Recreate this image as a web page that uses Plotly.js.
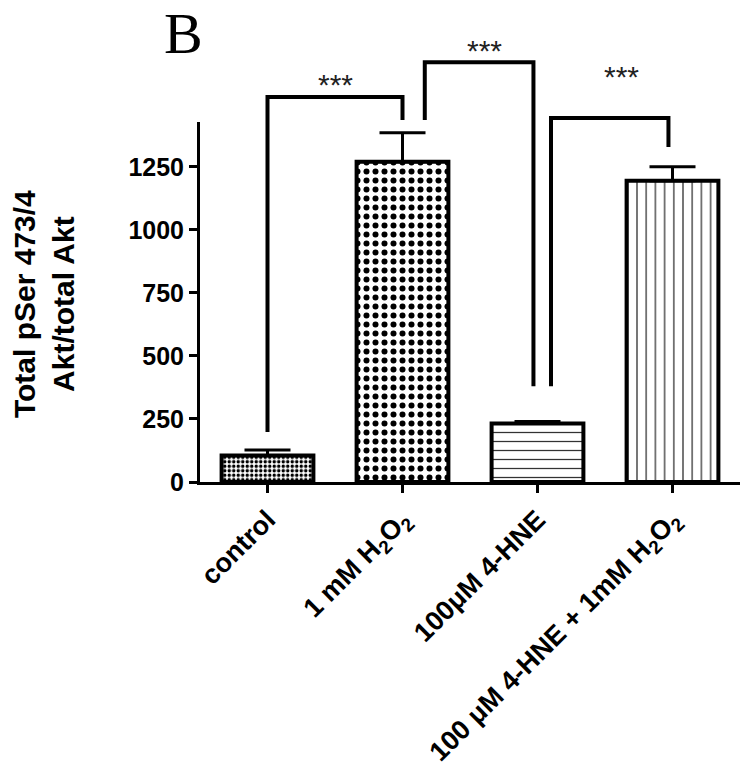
<!DOCTYPE html>
<html>
<head>
<meta charset="utf-8">
<script src="https://cdn.plot.ly/plotly-3.0.1.min.js"></script>
<style>html,body{margin:0;padding:0;background:#fff;}</style>
</head>
<body>
<div id="chart" style="width:750px;height:771px;"></div>
<script>
// ---- data ----
const categories = ["control", "1 mM H<sub>2</sub>O<sub>2</sub>", "100μM 4-HNE", "100 μM 4-HNE + 1mM H<sub>2</sub>O<sub>2</sub>"];
const means = [105, 1270, 232, 1195];
const sem = [22, 115, 8, 55];
const yTicks = [0, 250, 500, 750, 1000, 1250];
const yMax = 1428;

// significance brackets (x in category index units, y in data units)
const bracket1X = [0, 0, 1, 1];
const bracket1Y = [198, 1527, 1527, 1436];
const bracket2X = [1.165, 1.165, 1.97, 1.97];
const bracket2Y = [1436, 1665, 1665, 380];
const bracket3X = [2.1, 2.1, 2.97, 2.97];
const bracket3Y = [380, 1444, 1444, 1329];
const starX = [0.5, 1.61, 2.62];
const starY = [1575, 1712, 1608];
const starText = ["***", "***", "***"];

const xIdx = categories.map((c, i) => i);

const patterns = [
  {shape: ".", size: 4.5, solidity: 0.45, fgcolor: "black", bgcolor: "white"},
  {shape: ".", size: 9, solidity: 0.35, fgcolor: "black", bgcolor: "white"},
  {shape: "-", size: 9, solidity: 0.14, fgcolor: "#333", bgcolor: "white"},
  {shape: "|", size: 9.2, solidity: 0.14, fgcolor: "#333", bgcolor: "white"}
];

const traces = [];
xIdx.forEach((x, i) => {
  traces.push({
    type: "bar",
    x: [x],
    y: [means[i]],
    width: 0.68,
    marker: {color: "white", line: {color: "black", width: 4}, pattern: patterns[i]},
    error_y: {type: "data", symmetric: false, array: [sem[i]], arrayminus: [0], color: "black", thickness: 3, width: 23},
    showlegend: false,
    hoverinfo: "skip"
  });
});

// brackets as shapes: x on the data axis, y converted from data units to paper fraction
const shapes = [];
[[bracket1X, bracket1Y], [bracket2X, bracket2Y], [bracket3X, bracket3Y]].forEach(([bx, by]) => {
  let path = "";
  bx.forEach((x, k) => {
    path += (k === 0 ? "M" : "L") + x + "," + (by[k] / yMax);
  });
  shapes.push({
    type: "path", xref: "x", yref: "paper", path: path,
    line: {color: "black", width: 4}
  });
});

const annotations = starX.map((x, i) => ({
  x: x, y: starY[i] / yMax, xref: "x", yref: "paper", text: starText[i], showarrow: false,
  xanchor: "center", yanchor: "middle",
  font: {family: "Liberation Sans, Arial, sans-serif", size: 30, color: "#222"}
}));
annotations.push({
  x: -0.031, y: 1.247, xref: "paper", yref: "paper", text: "B", showarrow: false,
  xanchor: "center", yanchor: "middle",
  font: {family: "Liberation Serif, Times New Roman, serif", size: 58, color: "black"}
});
annotations.push({
  x: -0.289, y: 0.494, xref: "paper", yref: "paper",
  text: "Total pSer 473/4<br>Akt/total Akt", showarrow: false, textangle: -90,
  xanchor: "center", yanchor: "middle",
  font: {family: "Liberation Sans, Arial, sans-serif", size: 30, color: "black", weight: "bold"}
});

const layout = {
  width: 750, height: 771,
  margin: {l: 200, r: 10, t: 122, b: 289},
  paper_bgcolor: "white", plot_bgcolor: "white",
  xaxis: {
    range: [-0.5, 3.5], tickvals: xIdx, ticktext: categories, tickangle: -45,
    showgrid: false, zeroline: false, showline: true, linecolor: "black", linewidth: 3,
    ticks: "outside", ticklen: 8, tickwidth: 3, tickcolor: "black",
    tickfont: {family: "Liberation Sans, Arial, sans-serif", size: 27, color: "black", weight: "bold"}
  },
  yaxis: {
    range: [0, yMax], tickvals: yTicks, ticktext: yTicks.map(String),
    showgrid: false, zeroline: false, showline: true, linecolor: "black", linewidth: 3,
    ticks: "outside", ticklen: 8, tickwidth: 3, tickcolor: "black",
    tickfont: {family: "Liberation Sans, Arial, sans-serif", size: 25, color: "black", weight: "bold"}
  },
  shapes: shapes,
  annotations: annotations,
  bargap: 0
};

Plotly.newPlot("chart", traces, layout, {displayModeBar: false, staticPlot: true});
</script>
</body>
</html>
